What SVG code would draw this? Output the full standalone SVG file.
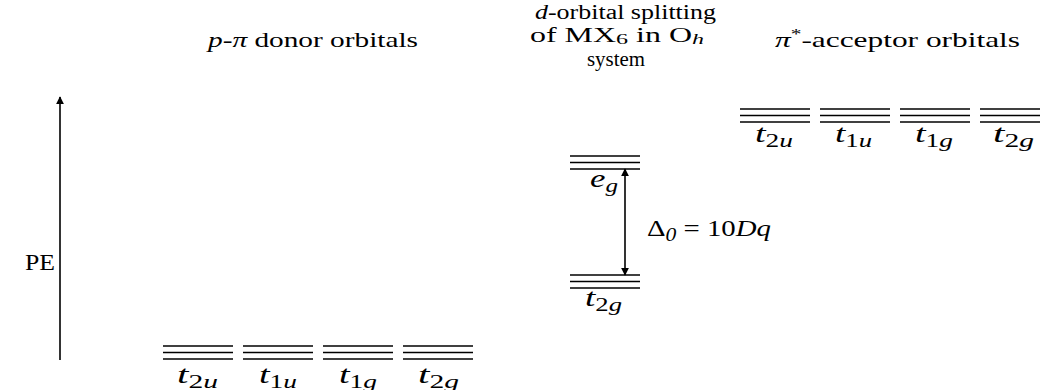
<svg xmlns="http://www.w3.org/2000/svg" width="1040" height="390" viewBox="0 0 1040 390">
<style>
text{font-family:"Liberation Serif","Times New Roman",serif;fill:#000}
.hd{font-size:22px}
.md{font-size:20px}
.lbl{font-size:25px}
.sub{font-size:18px}
.hsub{font-size:15px}
.it{font-style:italic}
.lv{stroke:#000;stroke-width:1.6;fill:none}
.ax{stroke:#000;stroke-width:1.6;fill:none}
</style>
<defs>
<marker id="ah" viewBox="0 0 10 10" refX="9" refY="5" markerWidth="8" markerHeight="11" markerUnits="userSpaceOnUse" orient="auto-start-reverse">
<path d="M0,0 L10,5 L0,10 Z" fill="#000"/>
</marker>
<g id="lvl"><line class="lv" x1="0" y1="0" x2="70" y2="0"/><line class="lv" x1="0" y1="6.5" x2="70" y2="6.5"/><line class="lv" x1="0" y1="13" x2="70" y2="13"/></g>
</defs>
<rect width="1040" height="390" fill="#fff"/>

<g id="headers">
<text class="hd" x="208" y="47" textLength="210" lengthAdjust="spacingAndGlyphs"><tspan class="it">p</tspan>-<tspan class="it">π</tspan> donor orbitals</text>
<text class="md" x="535" y="19" textLength="181" lengthAdjust="spacingAndGlyphs"><tspan class="it">d</tspan>-orbital splitting</text>
<text class="md" x="530" y="42" textLength="174" lengthAdjust="spacingAndGlyphs">of MX<tspan class="hsub" dy="2">6</tspan><tspan dy="-2"> in O</tspan><tspan class="hsub it" dy="2">h</tspan></text>
<text class="md" x="587" y="66" textLength="58" lengthAdjust="spacingAndGlyphs">system</text>
<text class="hd" x="775" y="47" textLength="245" lengthAdjust="spacingAndGlyphs"><tspan class="it">π</tspan><tspan class="hsub" dy="-8">*</tspan><tspan dy="8">-acceptor orbitals</tspan></text>
</g>

<g id="pe-label"><text x="25" y="270" font-size="24" textLength="30" lengthAdjust="spacingAndGlyphs">PE</text></g>

<g id="donor-t2u"><use href="#lvl" x="163" y="346"/><text class="lbl" x="177" y="383" textLength="41" lengthAdjust="spacingAndGlyphs"><tspan class="it">t</tspan><tspan class="sub" dy="5">2<tspan class="it">u</tspan></tspan></text></g>
<g id="donor-t1u"><use href="#lvl" x="243" y="346"/><text class="lbl" x="259" y="383" textLength="38" lengthAdjust="spacingAndGlyphs"><tspan class="it">t</tspan><tspan class="sub" dy="5">1<tspan class="it">u</tspan></tspan></text></g>
<g id="donor-t1g"><use href="#lvl" x="323" y="346"/><text class="lbl" x="339" y="383" textLength="38" lengthAdjust="spacingAndGlyphs"><tspan class="it">t</tspan><tspan class="sub" dy="5">1<tspan class="it">g</tspan></tspan></text></g>
<g id="donor-t2g"><use href="#lvl" x="403" y="346"/><text class="lbl" x="418" y="383" textLength="41" lengthAdjust="spacingAndGlyphs"><tspan class="it">t</tspan><tspan class="sub" dy="5">2<tspan class="it">g</tspan></tspan></text></g>

<g id="metal-eg"><use href="#lvl" x="570" y="156"/><text class="lbl" x="590" y="187" textLength="28" lengthAdjust="spacingAndGlyphs"><tspan class="it">e</tspan><tspan class="sub it" dy="5">g</tspan></text></g>
<g id="metal-t2g"><use href="#lvl" x="570" y="275"/><text class="lbl" x="585" y="306" textLength="37" lengthAdjust="spacingAndGlyphs"><tspan class="it">t</tspan><tspan class="sub" dy="5">2<tspan class="it">g</tspan></tspan></text></g>

<g id="acceptor-t2u"><use href="#lvl" x="740" y="109"/><text class="lbl" x="755" y="142" textLength="38" lengthAdjust="spacingAndGlyphs"><tspan class="it">t</tspan><tspan class="sub" dy="5">2<tspan class="it">u</tspan></tspan></text></g>
<g id="acceptor-t1u"><use href="#lvl" x="820" y="109"/><text class="lbl" x="835" y="142" textLength="37" lengthAdjust="spacingAndGlyphs"><tspan class="it">t</tspan><tspan class="sub" dy="5">1<tspan class="it">u</tspan></tspan></text></g>
<g id="acceptor-t1g"><use href="#lvl" x="900" y="109"/><text class="lbl" x="915" y="142" textLength="38" lengthAdjust="spacingAndGlyphs"><tspan class="it">t</tspan><tspan class="sub" dy="5">1<tspan class="it">g</tspan></tspan></text></g>
<g id="acceptor-t2g"><use href="#lvl" x="980" y="109"/><text class="lbl" x="993" y="142" textLength="41" lengthAdjust="spacingAndGlyphs"><tspan class="it">t</tspan><tspan class="sub" dy="5">2<tspan class="it">g</tspan></tspan></text></g>

<g id="connectors">
<line class="ax" x1="60" y1="360" x2="60" y2="97" marker-end="url(#ah)"/>
<line class="ax" x1="625" y1="169" x2="625" y2="275" marker-start="url(#ah)" marker-end="url(#ah)"/>
</g>

<g id="delta-label"><text x="647" y="236" font-size="24" textLength="124" lengthAdjust="spacingAndGlyphs">Δ<tspan class="sub it" dy="5">0</tspan><tspan dy="-5"> = 10</tspan><tspan class="it">Dq</tspan></text></g>
</svg>
